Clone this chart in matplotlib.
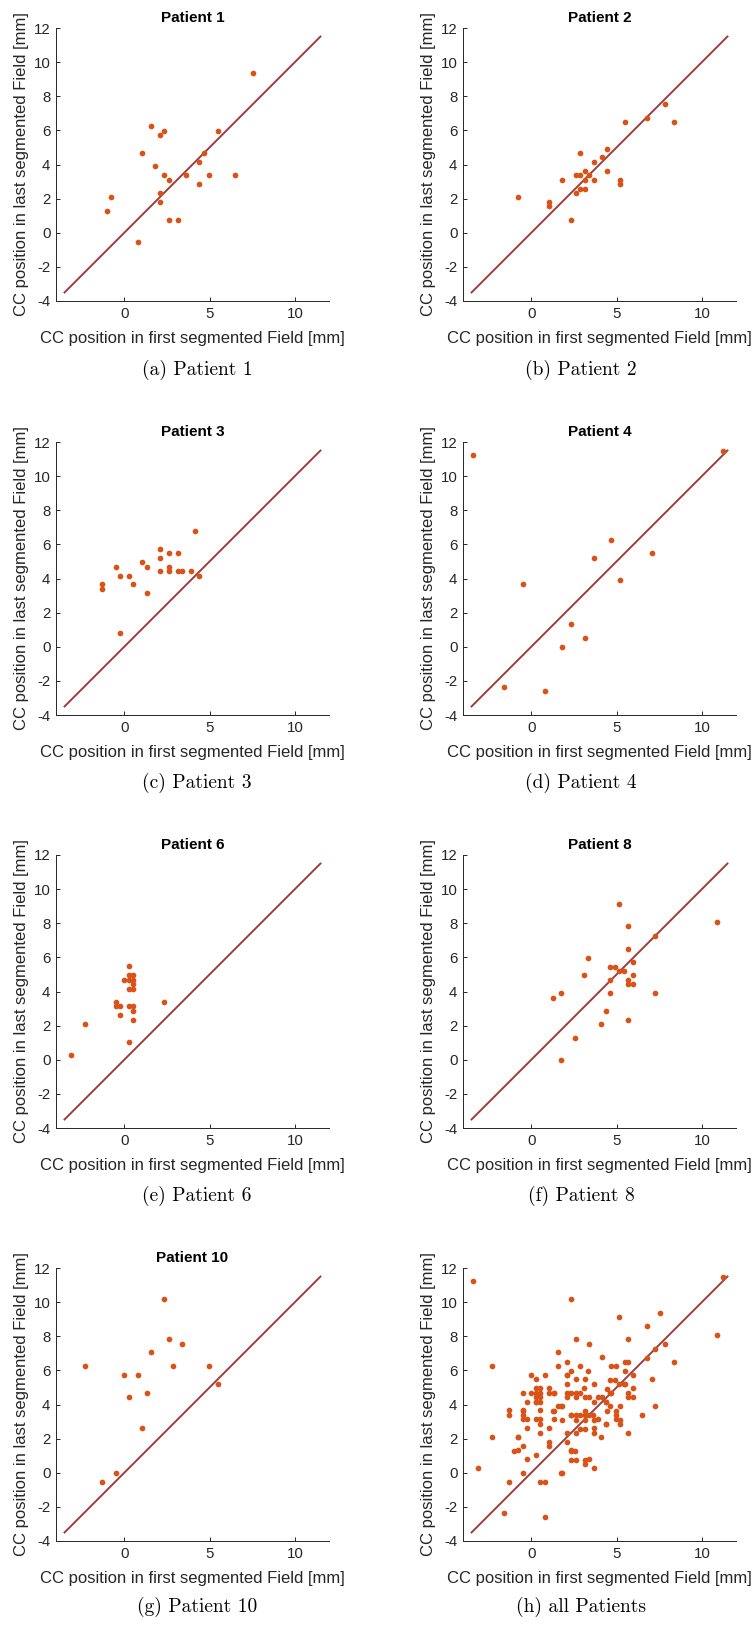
import numpy as np
import matplotlib
matplotlib.use("Agg")
import matplotlib.pyplot as plt

plt.rcParams["font.family"] = ["Liberation Sans", "DejaVu Sans"]
plt.rcParams["axes.unicode_minus"] = False

# CC positions [mm]: first segmented field (x) vs last segmented field (y)
p1_x = [7.52, 1.56, 2.07, 2.32, 5.47, 1.05, 4.69, 1.82, 4.41, 2.32, 2.60, 3.63, 4.94, 6.50, 4.41, 2.07, 2.07, -0.78, -1.04, 2.60, 3.13, 0.78]
p1_y = [9.37, 6.24, 5.71, 5.99, 5.99, 4.68, 4.68, 3.89, 4.15, 3.37, 3.11, 3.37, 3.37, 3.37, 2.86, 2.33, 1.80, 2.07, 1.29, 0.76, 0.76, -0.55]

p2_x = [-0.78, 1.04, 1.04, 1.82, 2.35, 2.60, 2.60, 2.86, 2.86, 2.86, 3.13, 3.13, 3.13, 3.39, 3.66, 3.66, 4.17, 4.44, 4.44, 5.23, 5.23, 5.48, 6.77, 7.81, 8.34]
p2_y = [2.07, 1.82, 1.55, 3.11, 0.76, 2.33, 3.37, 4.68, 3.37, 2.58, 3.64, 3.11, 2.58, 3.37, 4.15, 3.11, 4.42, 4.93, 3.64, 3.11, 2.86, 6.50, 6.75, 7.53, 6.50]

p3_x = [-1.29, -1.29, -0.51, -0.25, -0.25, 0.27, 0.53, 1.05, 1.31, 1.31, 2.09, 2.09, 2.09, 2.60, 2.60, 2.60, 3.13, 3.13, 3.38, 3.91, 4.16, 4.41]
p3_y = [3.66, 3.39, 4.70, 4.17, 0.78, 4.17, 3.66, 4.95, 4.70, 3.13, 5.74, 5.21, 4.42, 5.48, 4.70, 4.42, 5.48, 4.42, 4.42, 4.42, 6.79, 4.17]

p4_x = [-3.39, 11.21, -0.51, -1.57, 0.78, 1.82, 2.35, 3.13, 3.66, 4.70, 5.23, 7.05]
p4_y = [11.22, 11.47, 3.66, -2.35, -2.60, 0.00, 1.31, 0.53, 5.21, 6.26, 3.92, 5.48]

p6_x = [-3.11, -2.32, -0.51, -0.51, -0.25, -0.25, 0.00, 0.27, 0.27, 0.27, 0.27, 0.27, 0.27, 0.53, 0.53, 0.53, 0.53, 0.53, 0.53, 0.53, 2.34]
p6_y = [0.25, 2.09, 3.39, 3.13, 3.13, 2.60, 4.70, 5.48, 4.95, 4.70, 4.17, 3.13, 1.04, 4.95, 4.70, 4.42, 4.17, 3.13, 2.88, 2.35, 3.39]

p8_x = [1.25, 1.76, 1.76, 2.54, 3.07, 3.35, 4.11, 4.38, 4.64, 4.64, 4.64, 4.91, 5.17, 5.17, 5.42, 5.68, 5.68, 5.68, 5.68, 5.68, 5.95, 5.95, 5.95, 7.24, 7.24, 10.90]
p8_y = [3.64, 3.90, 0.00, 1.29, 4.95, 5.99, 2.08, 2.86, 5.46, 4.68, 3.90, 5.46, 9.12, 5.21, 5.21, 7.81, 6.50, 4.68, 4.42, 2.33, 5.72, 4.95, 4.42, 7.28, 3.90, 8.07]

p10_x = [-2.32, -1.29, -0.51, 0.00, 0.27, 0.78, 1.05, 1.31, 1.56, 2.34, 2.60, 2.85, 3.38, 4.94, 5.47]
p10_y = [6.26, -0.53, 0.00, 5.74, 4.44, 5.74, 2.60, 4.70, 7.05, 10.18, 7.83, 6.26, 7.56, 6.26, 5.23]

# patients that only appear in the pooled panel
other_x = [6.79, 2.09, 2.35, 3.39, 3.66, 0.53, -0.51, -0.78, 3.66, 3.66, -0.51, 2.09, 2.35, 3.13, 1.31, 3.91, 4.95, 1.57, 4.95]
other_y = [8.61, 6.52, 1.29, 0.78, 0.27, -0.53, 1.57, 1.31, 2.60, 2.35, 3.64, 4.70, 4.70, 3.39, 3.64, 3.13, 3.13, 3.92, 3.64]

titles = ["Patient 1", "Patient 2", "Patient 3", "Patient 4", "Patient 6", "Patient 8", "Patient 10", ""]
captions = ["(a) Patient 1", "(b) Patient 2", "(c) Patient 3", "(d) Patient 4",
            "(e) Patient 6", "(f) Patient 8", "(g) Patient 10", "(h) all Patients"]

all_x = p1_x + p2_x + p3_x + p4_x + p6_x + p8_x + p10_x + other_x
all_y = p1_y + p2_y + p3_y + p4_y + p6_y + p8_y + p10_y + other_y
series = [(p1_x, p1_y), (p2_x, p2_y), (p3_x, p3_y), (p4_x, p4_y),
          (p6_x, p6_y), (p8_x, p8_y), (p10_x, p10_y), (all_x, all_y)]

DOT = "#D95319"
LINE = "#A03C3C"
INK = "#262626"

W, H = 755, 1628
fig = plt.figure(figsize=(W / 100, H / 100), dpi=100)

col_left = [56, 463]
row_top = [28, 442, 855, 1268]
size = 273
cap_x = [197, 581]
cap_y = [370, 783, 1196, 1607]

for i, ((xs, ys), title, caption) in enumerate(zip(series, titles, captions)):
    r, c = divmod(i, 2)
    ax = fig.add_axes([col_left[c] / W, 1 - (row_top[r] + size) / H, size / W, size / H])
    ax.plot([-3.5, 11.5], [-3.5, 11.5], color=LINE, lw=1.4, zorder=1)
    ax.plot(xs, ys, "o", color=DOT, ms=4.1, mec="none", zorder=2)
    ax.set_xlim(-4, 12)
    ax.set_ylim(-4, 12)
    ax.set_xticks([0, 5, 10])
    ax.set_yticks(np.arange(-4, 13, 2))
    ax.spines[["top", "right"]].set_visible(False)
    for s in ("left", "bottom"):
        ax.spines[s].set_color(INK)
        ax.spines[s].set_linewidth(0.7)
    ax.tick_params(direction="in", length=3, width=0.7, colors=INK, labelsize=10.8, pad=4)
    ax.set_xlabel("CC position in first segmented Field [mm]", fontsize=12, color=INK)
    ax.set_ylabel("CC position in last segmented Field [mm]", fontsize=12, color=INK)
    ax.xaxis.set_label_coords(0.5, -30 / size)
    ax.yaxis.set_label_coords(-27 / size, 0.5)
    if title:
        ax.set_title(title, fontsize=11, fontweight="bold", pad=4)
    fig.text(cap_x[c] / W, 1 - cap_y[r] / H, caption, ha="center", va="center",
             fontsize=14, family="cmr10")

fig.savefig("out.png", dpi=100)
